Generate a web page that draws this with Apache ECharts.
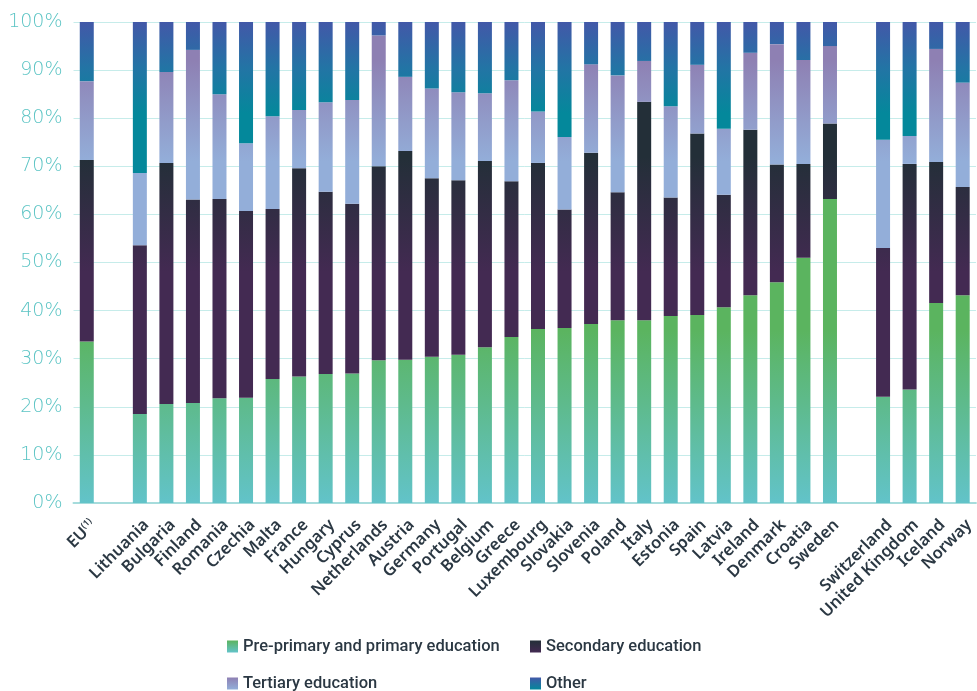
<!DOCTYPE html>
<html>
<head>
<meta charset="utf-8">
<script src="https://cdn.jsdelivr.net/npm/echarts@6/dist/echarts.min.js"></script>
<style>
html,body{margin:0;padding:0;background:#fff;}
#chart{width:977px;height:691px;}
</style>
</head>
<body>
<div id="chart"></div>
<script>
const categories = ['EU', '', 'Lithuania', 'Bulgaria', 'Finland', 'Romania', 'Czechia', 'Malta', 'France', 'Hungary', 'Cyprus', 'Netherlands', 'Austria', 'Germany', 'Portugal', 'Belgium', 'Greece', 'Luxembourg', 'Slovakia', 'Slovenia', 'Poland', 'Italy', 'Estonia', 'Spain', 'Latvia', 'Ireland', 'Denmark', 'Croatia', 'Sweden', '', 'Switzerland', 'United Kingdom', 'Iceland', 'Norway'];
const primary   = [33.6, null, 18.5, 20.6, 20.8, 21.8, 21.9, 25.8, 26.3, 26.8, 26.9, 29.7, 29.8, 30.4, 30.8, 32.4, 34.5, 36.2, 36.4, 37.2, 38.0, 38.0, 38.9, 39.1, 40.7, 43.2, 45.9, 51.0, 63.2, null, 22.1, 23.6, 41.6, 43.2];
const secondary = [37.7, null, 35.1, 50.1, 42.3, 41.4, 38.8, 35.3, 43.3, 37.9, 35.3, 40.3, 43.4, 37.1, 36.3, 38.7, 32.4, 34.5, 24.6, 35.6, 26.6, 45.4, 24.6, 37.7, 23.4, 34.4, 24.5, 19.5, 15.7, null, 30.9, 46.9, 29.3, 22.5];
const tertiary  = [16.4, null, 15.0, 18.9, 31.1, 21.8, 14.1, 19.3, 12.1, 18.6, 21.6, 27.2, 15.4, 18.7, 18.3, 14.1, 21.0, 10.7, 15.1, 18.4, 24.3, 8.5, 19.0, 14.3, 13.7, 16.0, 25.0, 21.6, 16.1, null, 22.5, 5.8, 23.5, 21.7];
const other     = [12.3, null, 31.4, 10.4, 5.8, 15.0, 25.2, 19.6, 18.3, 16.7, 16.2, 2.8, 11.4, 13.8, 14.6, 14.8, 12.1, 18.6, 23.9, 8.8, 11.1, 8.1, 17.5, 8.9, 22.2, 6.4, 4.6, 7.9, 5.0, null, 24.5, 23.7, 5.6, 12.6];
const seriesNames = ['Pre-primary and primary education', 'Secondary education', 'Tertiary education', 'Other'];
const yTicks = [0, 100, 10];

const G = echarts.graphic.LinearGradient;
const top0 = 22, h = 481;
function yPix(v){ return top0 + h * (1 - v / 100); }
const fills = [
  new G(0, yPix(36), 0, yPix(0), [{offset:0,color:'#5bb45f'},{offset:1,color:'#62c3c9'}], true),
  new G(0, yPix(72), 0, yPix(48), [{offset:0,color:'#232f38'},{offset:1,color:'#432a52'}], true),
  new G(0, yPix(92), 0, yPix(71), [{offset:0,color:'#8e80b3'},{offset:1,color:'#93aed9'}], true),
  new G(0, yPix(100), 0, yPix(81), [{offset:0,color:'#4258a8'},{offset:0.5,color:'#2374a5'},{offset:1,color:'#04889b'}], true)
];
const icons = [
  new G(0,0,0,1,[{offset:0,color:'#5bb45f'},{offset:1,color:'#62c3c9'}]),
  new G(0,0,0,1,[{offset:0,color:'#232f38'},{offset:1,color:'#432a52'}]),
  new G(0,0,0,1,[{offset:0,color:'#8e80b3'},{offset:1,color:'#93aed9'}]),
  new G(0,0,0,1,[{offset:0,color:'#4258a8'},{offset:1,color:'#04889b'}])
];
const values = [primary, secondary, tertiary, other];

const legendPos = [[222,633],[525,633],[222,670],[525,670]];
const legends = seriesNames.map((n,i)=>({
  left: legendPos[i][0], top: legendPos[i][1],
  data: [{name:n, itemStyle:{color:icons[i]}}],
  icon: 'rect', itemWidth: 11, itemHeight: 12, itemGap: 5,
  textStyle: {fontFamily:'Roboto', fontSize: 16.5, fontWeight: 500, color:'#2b3843'},
  selectedMode: false
}));

const chart = echarts.init(document.getElementById('chart'), null, {renderer:'canvas'});
chart.setOption({
  animation: false,
  legend: legends,
  grid: {left: 73.5, top: top0, height: h, width: 915.3, containLabel: false},
  xAxis: {
    type: 'category', data: categories,
    axisLine: {lineStyle:{color:'#a6dcdc', width:2}},
    axisTick: {show:false},
    axisLabel: {
      interval: 0, rotate: 45, margin: 13, padding: [18, 0, 0, 0],
      color: '#2b3843', fontFamily: 'Noto Sans', fontSize: 16.5, fontWeight: 600,
      formatter: v => v === 'EU' ? '{a|EU}{s|(1)}' : v,
      rich: {a:{fontFamily:'Noto Sans', fontSize:16.5, fontWeight:600, color:'#2b3843'}, s:{fontFamily:'Noto Sans', fontSize:9, fontWeight:600, color:'#2b3843', verticalAlign:'top'}}
    }
  },
  yAxis: {
    type: 'value', min: yTicks[0], max: yTicks[1], interval: yTicks[2],
    axisLine: {show:false}, axisTick: {show:false},
    splitLine: {lineStyle:{color:'#c6ecea', width:1}},
    axisLabel: {formatter:'{value}%', color:'#5cc4c4', fontFamily:'DejaVu Sans', fontSize:19, fontWeight:'lighter', margin: 11}
  },
  series: seriesNames.map((n,i)=>({
    name: n, type: 'bar', stack: 'total', barWidth: 14,
    data: values[i],
    itemStyle: {color: fills[i]}
  }))
});
</script>
</body>
</html>
